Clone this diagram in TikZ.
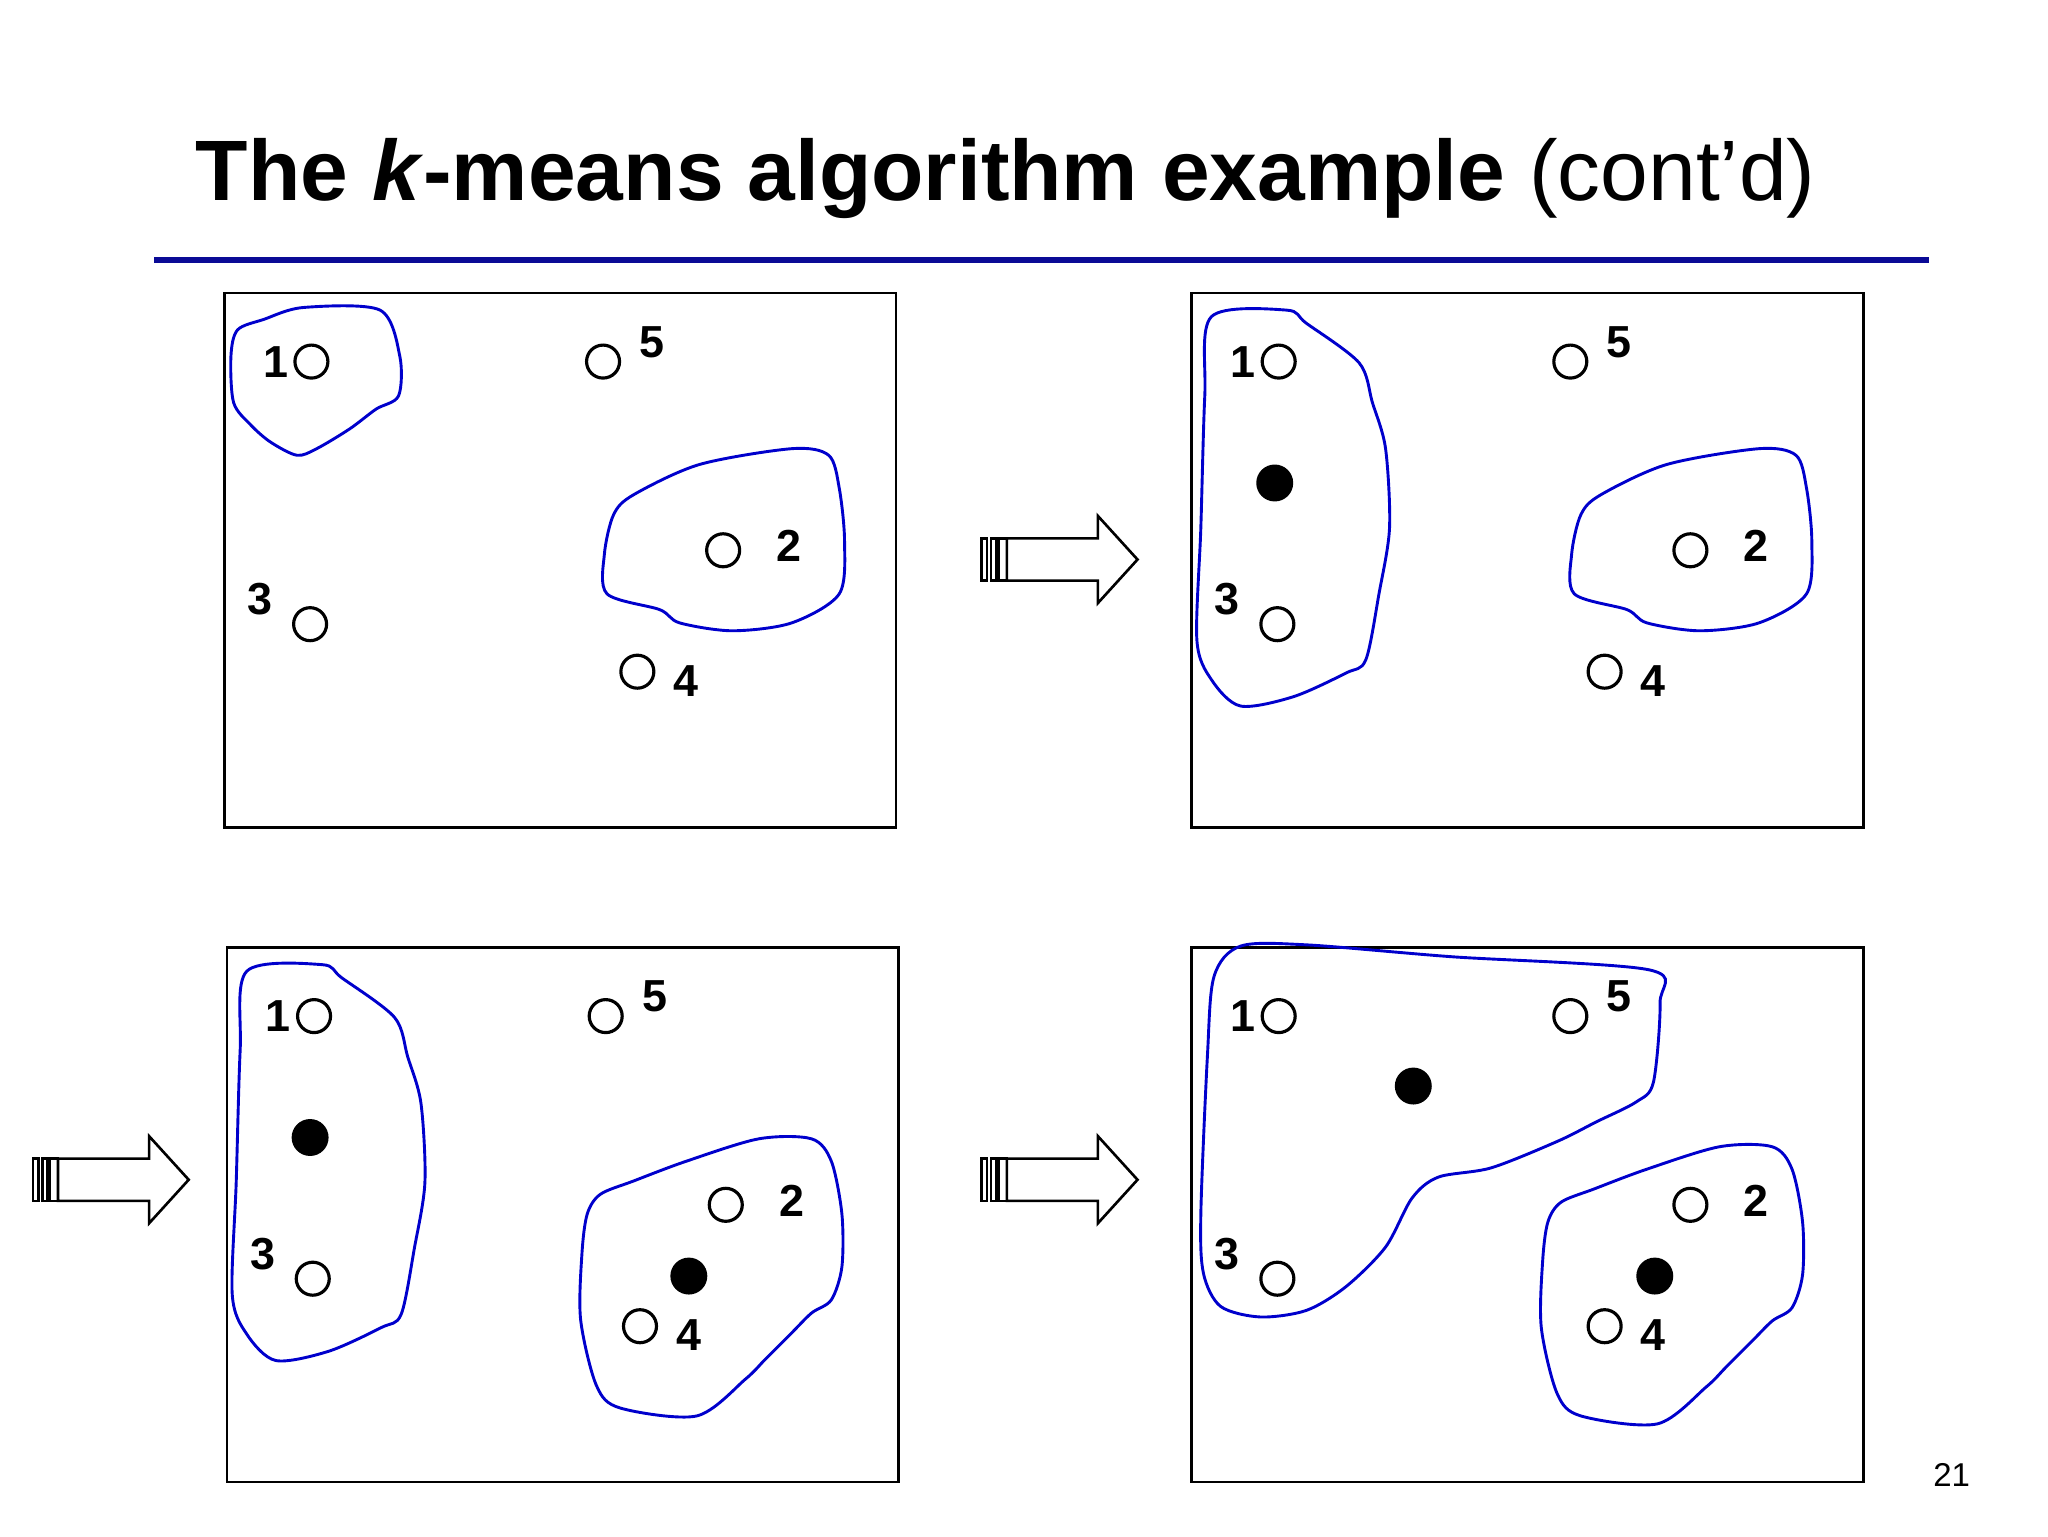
\documentclass[tikz,border=0pt]{standalone}
\usepackage{fontspec}
\setmainfont{Liberation Sans}
\begin{document}
\begin{tikzpicture}[x=0.5pt,y=-0.5pt,
  pt/.style={circle,draw,line width=1.2pt,minimum size=12.5pt,inner sep=0pt},
  cen/.style={circle,fill=black,minimum size=14pt,inner sep=0pt},
  lab/.style={font=\fontsize{17pt}{17pt}\selectfont\bfseries,inner sep=0pt},
  frame/.style={draw,line width=1pt},
  blob/.style={draw=blue!80!black,line width=1.1pt},
  barr/.style={draw,line width=1pt,fill=white}]
\useasboundingbox (0,0) rectangle (1552,1164);
\node[anchor=base west,inner sep=0pt,font=\fontsize{32.5pt}{32.5pt}\selectfont] (title) at (148,152)
 {\textbf{The \textit{k}-means algorithm example} (cont’d)};
\coordinate (r1) at (117,197); \coordinate (r2) at (1462,197);
\draw[line width=2.5pt,color={rgb,255:red,10;green,10;blue,150}] (r1) -- (r2);
% frames
\draw[frame] (170,222) rectangle (679,627);
\draw[frame] (903,222) rectangle (1412,627);
\draw[frame] (172,718) rectangle (681,1123);
\draw[frame] (903,718) rectangle (1412,1123);
% points
\foreach \dx/\dy/\s in {0/0/a,733/0/b,2/496/c,733/496/d}{
 \begin{scope}[shift={(\dx,\dy)}]
 \node[pt] (p1\s) at (236,274) {}; \node[lab] (l1\s) at (209,274) {1};
 \node[pt] (p5\s) at (457,274) {}; \node[lab] (l5\s) at (494,259) {5};
 \node[pt] (p2\s) at (548,417) {}; \node[lab] (l2\s) at (598,414) {2};
 \node[pt] (p3\s) at (235,473) {}; \node[lab] (l3\s) at (197,454) {3};
 \node[pt] (p4\s) at (483,509) {}; \node[lab] (l4\s) at (520,516) {4};
 \end{scope}}
% TL blobs
\draw[blob] plot[smooth cycle,tension=0.5] coordinates {(175,270)(180,250)(200,242)(230,233)(288,235)(303,270)(302,300)(285,310)(265,325)(240,340)(225,345)(205,335)(190,322)(177,305)};
\foreach \dx in {0,733}{
\draw[blob,shift={(\dx,0)}] plot[smooth cycle,tension=0.5] coordinates {(480,375)(530,352)(600,340)(628,345)(636,370)(640,410)(636,450)(600,472)(555,478)(515,472)(500,462)(460,450)(458,420)(465,390)};}
% TR
\draw[blob] plot[smooth cycle,tension=0.5] coordinates {(918,240)(975,235)(990,245)(1030,275)(1040,305)(1050,340)(1053,400)(1045,450)(1035,500)(1020,510)(980,528)(940,535)(918,515)(907,485)(910,400)(913,300)};
\node[cen] (cb1) at (966,366) {};
% BL
\draw[blob,shift={(-731,496)}] plot[smooth cycle,tension=0.5] coordinates {(918,240)(975,235)(990,245)(1030,275)(1040,305)(1050,340)(1053,400)(1045,450)(1035,500)(1020,510)(980,528)(940,535)(918,515)(907,485)(910,400)(913,300)};
\node[cen] (cc1) at (235,862) {};
\foreach \dx/\dy in {0/0,728/6}{
\draw[blob,shift={(\dx,\dy)}] plot[smooth cycle,tension=0.5] coordinates {(455,905)(480,895)(520,880)(575,863)(615,863)(630,880)(638,920)(638,960)(630,985)(615,995)(600,1010)(580,1030)(565,1045)(528,1073)(470,1067)(452,1050)(440,1000)(441,950)(445,920)};}
\node[cen] (cc2) at (522,967) {};
% BR
\draw[blob] plot[smooth cycle,tension=0.5] coordinates {(920,740)(940,717)(990,716)(1100,725)(1250,735)(1258,760)(1253,820)(1240,835)(1210,850)(1180,865)(1130,885)(1090,892)(1070,908)(1050,945)(1020,975)(990,993)(955,998)(925,990)(912,965)(910,920)(915,800)};
\node[cen] (cd1) at (1071,823) {};
\node[cen] (cd2) at (1254,967) {};
% arrows
\foreach \ax/\ay in {744/424,25/894,744/894}{
 \begin{scope}[shift={(\ax,\ay)}]
 \draw[barr] (0,-16) rectangle (4,16);
 \draw[barr] (7,-16) rectangle (11,16);
 \draw[barr] (13,-16) rectangle (19,16);
 \draw[barr] (19,-16) -- (88,-16) -- (88,-33) -- (118,0) -- (88,33) -- (88,16) -- (19,16) -- cycle;
 \end{scope}}
\node[font=\fontsize{12.5pt}{12.5pt}\selectfont,inner sep=0pt] (pg) at (1479,1118) {21};
\end{tikzpicture}
\end{document}
